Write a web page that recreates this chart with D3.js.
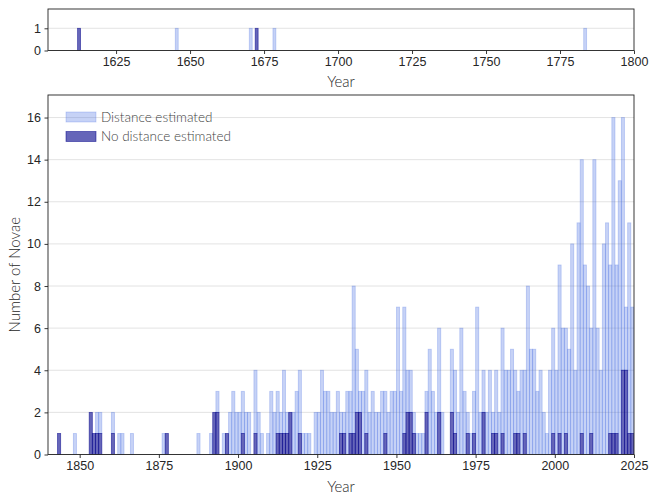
<!DOCTYPE html>
<html><head><meta charset="utf-8">
<script src="https://cdn.jsdelivr.net/npm/d3@7"></script>
<style>
body{margin:0;background:#fff;}
svg{display:block;font-family:Lato,'Open Sans',sans-serif;}
</style></head><body>
<svg id="c" width="652" height="495"></svg>
<script>
// ---- data ----
const topYears        = [1612, 1645, 1670, 1672, 1678, 1783];
const topDistance     = [0, 1, 1, 0, 1, 1];
const topNoDistance   = [1, 0, 0, 1, 0, 0];

// "distanceEstimated" holds the top of the light bar (stacked total), "noDistanceEstimated" the dark part
const years = [1843,1848,1853,1854,1855,1856,1860,1862,1863,1866,1876,1877,1887,1891,1892,1893,1895,1896,1897,1898,
  1899,1900,1901,1902,1903,1905,1906,1907,1909,1910,1911,1912,1913,1914,1915,1916,1917,1918,1919,1920,
  1921,1922,1924,1925,1926,1927,1928,1929,1930,1931,1932,1933,1934,1935,1936,1937,1938,1939,1940,1941,
  1942,1943,1944,1945,1946,1947,1948,1949,1950,1951,1952,1953,1954,1955,1956,1957,1958,1959,1960,1961,
  1962,1963,1964,1967,1968,1969,1970,1971,1972,1973,1974,1975,1976,1977,1978,1979,1980,1981,1982,1983,
  1984,1985,1986,1987,1988,1989,1990,1991,1992,1993,1994,1995,1996,1997,1998,1999,2000,2001,2002,2003,
  2004,2005,2006,2007,2008,2009,2010,2011,2012,2013,2014,2015,2016,2017,2018,2019,2020,2021,2022,2023,2024];
const distanceEstimated = [0,1,0,0,2,2,2,1,1,1,1,0,1,1,0,3,1,0,2,3,
  2,2,3,2,2,4,2,1,1,3,2,3,2,4,2,2,2,3,4,1,
  1,1,2,2,4,3,3,2,2,3,2,2,3,3,8,5,3,3,4,2,
  3,2,2,3,3,2,3,3,7,3,7,4,4,2,1,1,1,3,5,3,
  2,6,2,5,4,2,6,3,2,1,3,7,2,4,2,4,2,4,2,6,
  4,4,5,4,3,4,4,8,5,5,3,4,2,1,4,6,4,9,6,6,
  5,10,4,11,14,9,8,6,14,6,4,10,11,9,16,9,13,16,7,11,7];
const noDistanceEstimated = [1,0,2,1,1,1,1,0,0,0,0,1,0,0,2,2,0,1,0,0,
  0,0,1,0,0,1,0,0,0,0,0,1,1,1,1,2,0,0,1,0,
  0,0,0,0,0,0,0,0,0,0,1,1,0,1,1,2,2,0,1,0,
  0,0,0,0,1,0,0,0,0,0,1,2,2,1,0,0,0,2,0,0,
  0,2,0,2,1,0,0,0,1,0,1,0,0,2,0,0,1,1,0,1,
  0,0,0,1,1,0,1,0,0,0,0,0,0,0,0,1,0,1,0,1,
  0,0,0,0,1,0,0,1,0,0,0,0,0,1,1,1,0,4,4,1,1];

const mainXTicks = [1850,1875,1900,1925,1950,1975,2000,2025];
const mainYTicks = [0,2,4,6,8,10,12,14,16];
const topXTicks  = [1625,1650,1675,1700,1725,1750,1775,1800];
const topYTicks  = [0,1];
const seriesNames = ["Distance estimated", "No distance estimated"];

// ---- styles ----
const lightFill = "rgba(65,105,225,0.3)";
const darkFill  = "rgba(0,0,139,0.6)";
const gridCol = "#dcdcdc";
const textCol = "#262626";

const svg = d3.select("#c");
const L = 48, R = 634;

function panel(cfg){
  const g = svg.append("g");
  const x = d3.scaleLinear().domain(cfg.xdom).range([L, R]);
  const y = d3.scaleLinear().domain(cfg.ydom).range([cfg.bottom, cfg.top]);
  const id = "clip" + cfg.name;
  svg.append("clipPath").attr("id", id).append("rect")
    .attr("x", L).attr("y", cfg.top).attr("width", R - L).attr("height", cfg.bottom - cfg.top);
  // grid
  g.append("g").selectAll("line").data(cfg.yticks).join("line")
    .attr("x1", L).attr("x2", R).attr("y1", d => y(d)).attr("y2", d => y(d))
    .attr("stroke", gridCol).attr("stroke-width", 0.8);
  const bars = g.append("g").attr("clip-path", `url(#${id})`);
  const lightData = cfg.years.map((yr, i) => ({yr, lo: cfg.dark[i], hi: cfg.light[i]})).filter(d => d.hi > d.lo);
  const darkData  = cfg.years.map((yr, i) => ({yr, v: cfg.dark[i]})).filter(d => d.v > 0);
  bars.append("g").selectAll("rect").data(lightData).join("rect")
    .attr("x", d => x(d.yr)).attr("width", d => x(d.yr + 1) - x(d.yr))
    .attr("y", d => y(d.hi)).attr("height", d => y(d.lo) - y(d.hi))
    .attr("fill", lightFill).attr("stroke", lightFill).attr("stroke-width", 0.8);
  bars.append("g").selectAll("rect").data(darkData).join("rect")
    .attr("x", d => x(d.yr)).attr("width", d => x(d.yr + 1) - x(d.yr))
    .attr("y", d => y(d.v)).attr("height", d => y(0) - y(d.v))
    .attr("fill", darkFill).attr("stroke", darkFill).attr("stroke-width", 0.8);
  // axes
  const xa = g.append("g").attr("transform", `translate(0,${cfg.bottom})`)
    .call(d3.axisBottom(x).tickValues(cfg.xticks).tickFormat(d3.format("d")).tickSize(3.5).tickPadding(3));
  const ya = g.append("g").attr("transform", `translate(${L},0)`)
    .call(d3.axisLeft(y).tickValues(cfg.yticks).tickFormat(d3.format("d")).tickSize(3.5).tickPadding(3.5));
  [xa, ya].forEach(a => {
    a.select(".domain").remove();
    a.selectAll(".tick line").attr("stroke", "#222").attr("stroke-width", 0.9);
    a.selectAll(".tick text").attr("fill", textCol).attr("font-size", 12.5).attr("font-weight", 300);
  });
  // frame
  g.append("rect").attr("x", L).attr("y", cfg.top).attr("width", R - L).attr("height", cfg.bottom - cfg.top)
    .attr("fill", "none").attr("stroke", "#222").attr("stroke-width", 0.9);
  g.append("text").attr("x", (L + R) / 2).attr("y", cfg.xlabY).attr("text-anchor", "middle")
    .attr("fill", textCol).attr("font-size", 15).attr("font-weight", 300).text("Year");
  return {x, y, g};
}

panel({name:"top", xdom:[1602, 1800], ydom:[0, 1.87], top:9, bottom:50.5,
  xticks: topXTicks, yticks: topYTicks, years: topYears, light: topDistance, dark: topNoDistance, xlabY: 87});

panel({name:"main", xdom:[1840, 2025], ydom:[0, 17.07], top:95, bottom:454.5,
  xticks: mainXTicks, yticks: mainYTicks, years, light: distanceEstimated, dark: noDistanceEstimated, xlabY: 492});

svg.append("text").attr("transform", `translate(20,${(95 + 454.5) / 2}) rotate(-90)`)
  .attr("text-anchor", "middle").attr("fill", textCol).attr("font-size", 15).attr("font-weight", 300)
  .text("Number of Novae");

// legend
const lg = svg.append("g");
const fills = [lightFill, darkFill];
seriesNames.forEach((s, i) => {
  const yy = 112 + i * 19.5;
  lg.append("rect").attr("x", 66).attr("y", yy).attr("width", 30).attr("height", 10)
    .attr("fill", fills[i]).attr("stroke", fills[i]).attr("stroke-width", 0.8);
  lg.append("text").attr("x", 101).attr("y", yy + 9.5).attr("fill", "#444")
    .attr("font-size", 13.5).attr("font-weight", 300).text(s);
});
</script>
</body></html>
